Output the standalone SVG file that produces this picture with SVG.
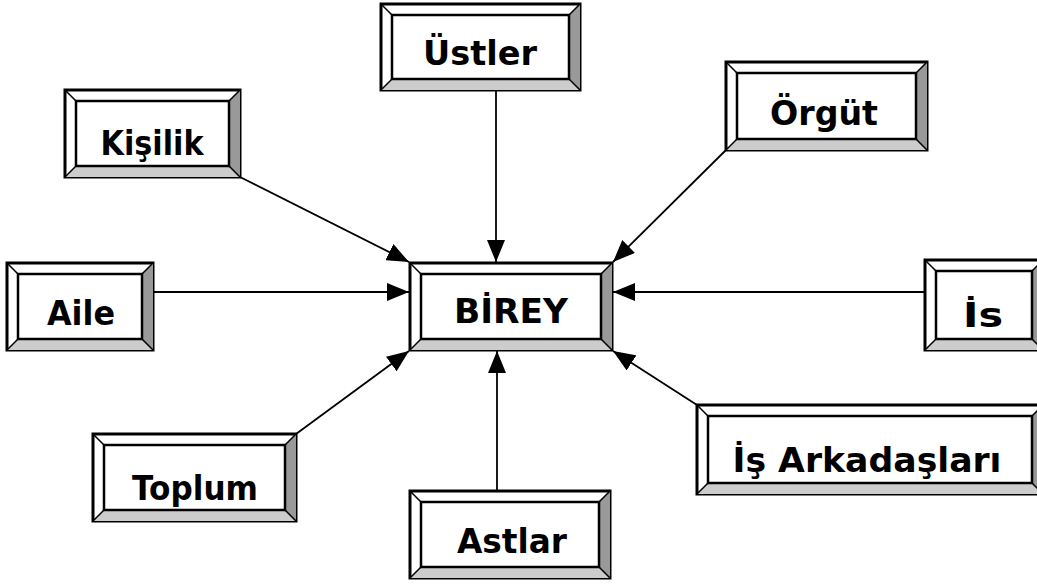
<svg xmlns="http://www.w3.org/2000/svg" width="1037" height="585" viewBox="0 0 1037 585">
<style>
.o{fill:#fff;stroke:#000;stroke-width:3}
.r{fill:#999;stroke:none}
.b{fill:#ccc;stroke:none}
.d{fill:none;stroke:#000;stroke-width:1.5}
.i{fill:#fff;stroke:#000;stroke-width:2.5}
.t{font-family:"DejaVu Sans",sans-serif;font-weight:bold;font-size:34px;fill:#000;text-anchor:middle}
.c{fill:none;stroke:#000;stroke-width:1.8;marker-end:url(#ah)}
</style>
<defs>
<marker id="ah" viewBox="0 0 22 18" refX="22" refY="9" markerWidth="22" markerHeight="18" markerUnits="userSpaceOnUse" orient="auto">
<path d="M0 0L22 9L0 18Z" fill="#000"/>
</marker>
</defs>
<rect width="1037" height="585" fill="#fff"/>
<g id="connectors">
<path class="c" d="M496 90L496 262"/>
<path class="c" d="M240 177L409 262"/>
<path class="c" d="M726 150L613 262"/>
<path class="c" d="M153 292L409 292"/>
<path class="c" d="M925 292L613 292"/>
<path class="c" d="M296 434L409 351"/>
<path class="c" d="M497 491L497 351"/>
<path class="c" d="M697 405L613 351"/>
</g>
<g id="ustler">
<rect class="o" x="381" y="4" width="199" height="86"/>
<path class="r" d="M580 4L580 90L569 79L569 15Z"/>
<path class="b" d="M381 90L580 90L569 79L392 79Z"/>
<path class="d" d="M381 4L392 15M580 4L569 15M381 90L392 79M580 90L569 79"/>
<rect class="i" x="392" y="15" width="177" height="64"/>
<text class="t" x="480" y="65" textLength="114" lengthAdjust="spacingAndGlyphs">Üstler</text>
</g>
<g id="kisilik">
<rect class="o" x="65" y="90" width="175" height="87"/>
<path class="r" d="M240 90L240 177L229 166L229 101Z"/>
<path class="b" d="M65 177L240 177L229 166L76 166Z"/>
<path class="d" d="M65 90L76 101M240 90L229 101M65 177L76 166M240 177L229 166"/>
<rect class="i" x="76" y="101" width="153" height="65"/>
<text class="t" x="152" y="155" textLength="103" lengthAdjust="spacingAndGlyphs">Kişilik</text>
</g>
<g id="orgut">
<rect class="o" x="726" y="62" width="201" height="88"/>
<path class="r" d="M927 62L927 150L916 139L916 73Z"/>
<path class="b" d="M726 150L927 150L916 139L737 139Z"/>
<path class="d" d="M726 62L737 73M927 62L916 73M726 150L737 139M927 150L916 139"/>
<rect class="i" x="737" y="73" width="179" height="66"/>
<text class="t" x="824" y="125" textLength="108" lengthAdjust="spacingAndGlyphs">Örgüt</text>
</g>
<g id="aile">
<rect class="o" x="7" y="263" width="146" height="87"/>
<path class="r" d="M153 263L153 350L142 339L142 274Z"/>
<path class="b" d="M7 350L153 350L142 339L18 339Z"/>
<path class="d" d="M7 263L18 274M153 263L142 274M7 350L18 339M153 350L142 339"/>
<rect class="i" x="18" y="274" width="124" height="65"/>
<text class="t" x="81" y="325" textLength="68" lengthAdjust="spacingAndGlyphs">Aile</text>
</g>
<g id="birey">
<rect class="o" x="410" y="263" width="202" height="87"/>
<path class="r" d="M612 263L612 350L601 339L601 274Z"/>
<path class="b" d="M410 350L612 350L601 339L421 339Z"/>
<path class="d" d="M410 263L421 274M612 263L601 274M410 350L421 339M612 350L601 339"/>
<rect class="i" x="421" y="274" width="180" height="65"/>
<text class="t" x="511" y="323" textLength="114" lengthAdjust="spacingAndGlyphs">BİREY</text>
</g>
<g id="is">
<rect class="o" x="925" y="260" width="118" height="90"/>
<path class="r" d="M1043 260L1043 350L1032 339L1032 271Z"/>
<path class="b" d="M925 350L1043 350L1032 339L936 339Z"/>
<path class="d" d="M925 260L936 271M1043 260L1032 271M925 350L936 339M1043 350L1032 339"/>
<rect class="i" x="936" y="271" width="96" height="68"/>
<text class="t" x="983" y="327" textLength="40" lengthAdjust="spacingAndGlyphs">İs</text>
</g>
<g id="isarkadaslari">
<rect class="o" x="697" y="405" width="346" height="89"/>
<path class="r" d="M1043 405L1043 494L1032 483L1032 416Z"/>
<path class="b" d="M697 494L1043 494L1032 483L708 483Z"/>
<path class="d" d="M697 405L708 416M1043 405L1032 416M697 494L708 483M1043 494L1032 483"/>
<rect class="i" x="708" y="416" width="324" height="67"/>
<text class="t" x="867" y="472" textLength="269" lengthAdjust="spacingAndGlyphs">İş Arkadaşları</text>
</g>
<g id="toplum">
<rect class="o" x="93" y="434" width="203" height="87"/>
<path class="r" d="M296 434L296 521L285 510L285 445Z"/>
<path class="b" d="M93 521L296 521L285 510L104 510Z"/>
<path class="d" d="M93 434L104 445M296 434L285 445M93 521L104 510M296 521L285 510"/>
<rect class="i" x="104" y="445" width="181" height="65"/>
<text class="t" x="195" y="500" textLength="126" lengthAdjust="spacingAndGlyphs">Toplum</text>
</g>
<g id="astlar">
<rect class="o" x="410" y="491" width="200" height="87"/>
<path class="r" d="M610 491L610 578L599 567L599 502Z"/>
<path class="b" d="M410 578L610 578L599 567L421 567Z"/>
<path class="d" d="M410 491L421 502M610 491L599 502M410 578L421 567M610 578L599 567"/>
<rect class="i" x="421" y="502" width="178" height="65"/>
<text class="t" x="512" y="553" textLength="110" lengthAdjust="spacingAndGlyphs">Astlar</text>
</g>
</svg>
